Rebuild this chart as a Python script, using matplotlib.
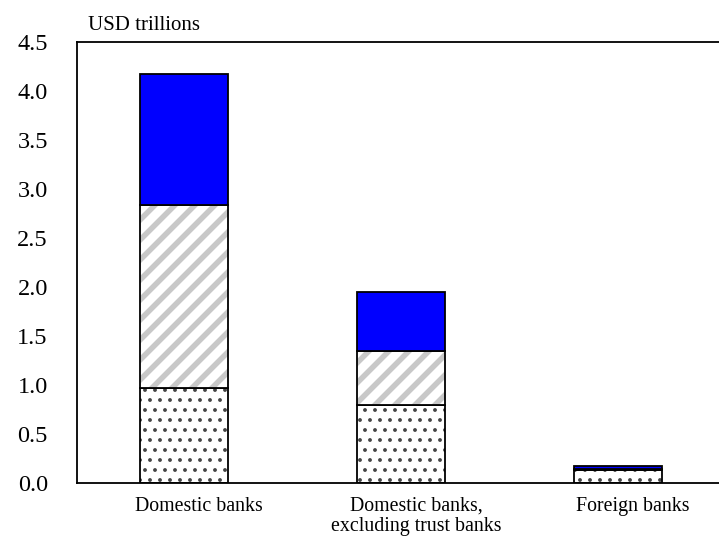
import matplotlib
matplotlib.use("Agg")
import matplotlib.pyplot as plt
import matplotlib.hatch as mh
import numpy as np

categories = ["Domestic banks", "Domestic banks,\nexcluding trust banks", "Foreign banks"]
dotted_vals = [0.97, 0.80, 0.13]
hatched_vals = [1.87, 0.55, 0.01]
blue_vals = [1.33, 0.60, 0.03]
yticks = [0.0, 0.5, 1.0, 1.5, 2.0, 2.5, 3.0, 3.5, 4.0, 4.5]

# adjust hatch densities to match the reference pattern spacing
_orig_ne = mh.NorthEastHatch.__init__
def _ne_init(self, hatch, density):
    _orig_ne(self, hatch, density)
    self.num_lines = int(round(self.num_lines * 10 / 6))
    self.num_vertices = (self.num_lines + 1) * 2 if self.num_lines else 0
mh.NorthEastHatch.__init__ = _ne_init

def _dots_init(self, hatch, density):
    self.num_rows = int(hatch.count('.') * density * 10 / 6)
    mh.Circles.__init__(self, hatch, density)
mh.SmallFilledCircles.__init__ = _dots_init

plt.rcParams['font.family'] = ['Liberation Serif', 'DejaVu Serif']

fig = plt.figure(figsize=(7.19, 5.49), dpi=100)
ax = fig.add_axes([77/719, 1-483/549, 1-77/719, (483-42)/549])

x = np.arange(len(categories))
bx = x - 0.069
w = 0.405
d = np.array(dotted_vals)
h = np.array(hatched_vals)
b = np.array(blue_vals)

# dotted segment
plt.rcParams['hatch.linewidth'] = 1.3
ax.bar(bx, d, w, color='white', edgecolor='#444444', hatch='.', linewidth=0)
ax.bar(bx, d, w, fill=False, edgecolor='black', linewidth=1.3)
# hatched segment
plt.rcParams['hatch.linewidth'] = 4.0
ax.bar(bx, h, w, bottom=d, color='white', edgecolor='#c8c8c8', hatch='/', linewidth=0)
ax.bar(bx, h, w, bottom=d, fill=False, edgecolor='black', linewidth=1.3)
# blue segment
ax.bar(bx, b, w, bottom=d + h, color='#0000ff', edgecolor='black', linewidth=1.3)

ax.set_xlim(-0.562, 2.396)
ax.set_ylim(0, 4.5)
ax.set_yticks(yticks)
ax.set_yticklabels([f"{v:.1f}" for v in yticks], fontsize=17.5)
ax.set_xticks(x)
ax.set_xticklabels(categories, fontsize=14.3, linespacing=1.1)
ax.tick_params(axis='both', length=0)
ax.tick_params(axis='x', pad=10)
ax.tick_params(axis='y', pad=21)
ax.spines['right'].set_visible(False)
for s in ['left', 'top', 'bottom']:
    ax.spines[s].set_linewidth(1.3)

fig.text(88/719, 1-26/549, "USD trillions", fontsize=15, ha='left', va='center')

fig.savefig("out.png", dpi=100)
